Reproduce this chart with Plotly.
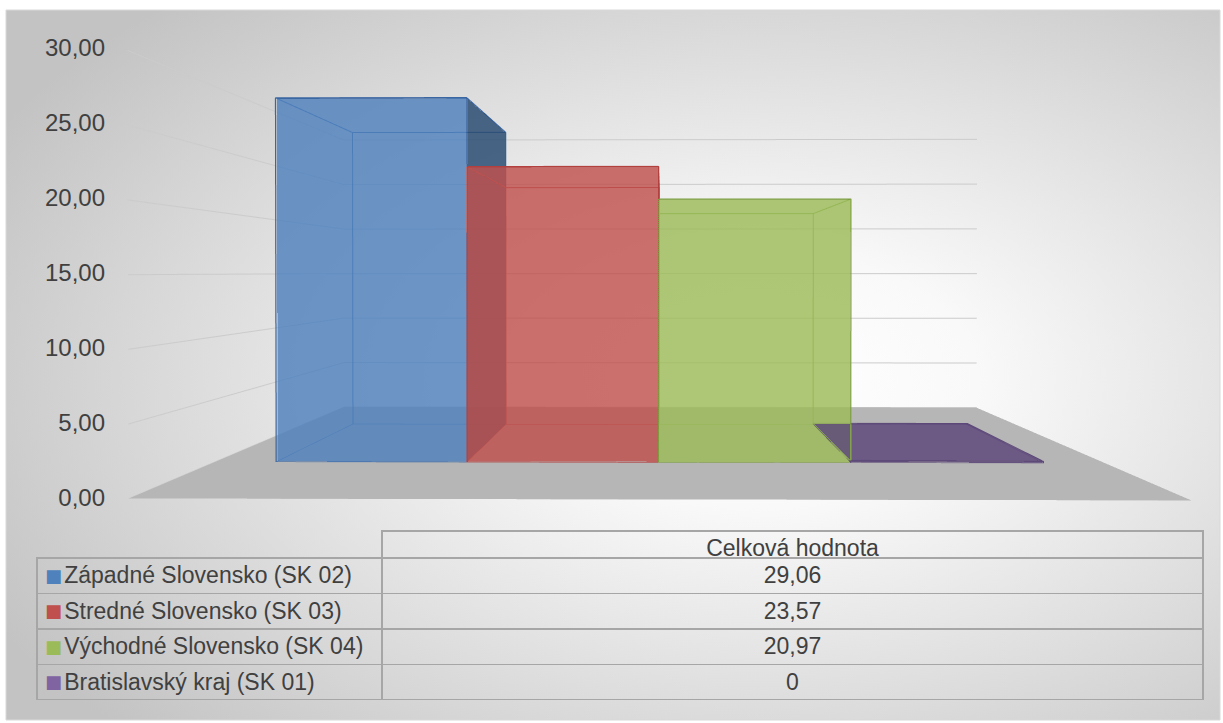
import base64
import plotly.graph_objects as go

# ---------------- data ----------------
categories = [
    "Západné Slovensko (SK 02)",
    "Stredné Slovensko (SK 03)",
    "Východné Slovensko (SK 04)",
    "Bratislavský kraj (SK 01)",
]
values = [29.06, 23.57, 20.97, 0]
value_labels = ["29,06", "23,57", "20,97", "0"]
column_header = "Celková hodnota"
y_tick_values = [0, 5, 10, 15, 20, 25, 30]
y_tick_labels = ["0,00", "5,00", "10,00", "15,00", "20,00", "25,00", "30,00"]

# ---------------- styles ----------------
base_colors = ["#4f81bd", "#c0504d", "#9bbb59", "#5c467a"]
side_colors = ["#25476f", "#7a2e2c", "#5d7a2e", "#4a3866"]
edge_colors = ["#3a66a2", "#b2403e", "#7d9e3e", "#5e4a78"]
legend_colors = ["#4f81bd", "#c0504d", "#9bbb59", "#8064a2"]
FONT = "Liberation Sans, Arial, sans-serif"
TEXT = "#404040"
BAR_W = 1.0           # bar width in category units (no gap)
DEPTH = (0.29, 0.72)  # bar depth band inside the floor
MIN_H = 0.15          # visual thickness for zero-valued bar
ALPHA = 0.82
X_RANGE = [-0.322, 4.322]
Y_RANGE = [0, 1]
Z_RANGE = [0, 30]
VIEW_X = sum(X_RANGE) / 2
VIEW_Z = sum(Z_RANGE) / 2
EPS = 0.006
INDENT = "\u00a0\u00a0\u00a0"

fig = go.Figure()

# floor
fig.add_trace(go.Mesh3d(
    x=[X_RANGE[0], X_RANGE[1], X_RANGE[1], X_RANGE[0]],
    y=[Y_RANGE[0], Y_RANGE[0], Y_RANGE[1], Y_RANGE[1]],
    z=[Z_RANGE[0]] * 4,
    i=[0, 0], j=[1, 2], k=[2, 3],
    color="#b6b6b6", flatshading=True, opacity=1,
    lighting=dict(ambient=1, diffuse=0, specular=0, roughness=1, fresnel=0),
    hoverinfo="skip", showscale=False,
))

# bars as 3D boxes (only faces turned towards the viewer are filled)
for i, (name, v) in enumerate(zip(categories, values)):
    x0, x1 = i, i + BAR_W
    y0, y1 = DEPTH
    z0, z1 = 0.0, max(v, MIN_H)
    xs = [x0, x1, x1, x0, x0, x1, x1, x0]
    ys = [y0, y0, y1, y1, y0, y0, y1, y1]
    zs = [z0, z0, z0, z0, z1, z1, z1, z1]
    tri, fc = [], []
    if x1 < VIEW_X:      # right side visible
        tri += [(1, 2, 6), (1, 6, 5)]; fc += [side_colors[i]] * 2
    if x0 > VIEW_X:      # left side visible
        tri += [(0, 3, 7), (0, 7, 4)]; fc += [side_colors[i]] * 2
    if z1 < VIEW_Z:      # top visible from above
        tri += [(4, 5, 6), (4, 6, 7)]; fc += [base_colors[i]] * 2
    tri += [(0, 1, 5), (0, 5, 4)]; fc += [base_colors[i]] * 2   # front
    fig.add_trace(go.Mesh3d(
        x=xs, y=ys, z=zs,
        i=[t[0] for t in tri], j=[t[1] for t in tri], k=[t[2] for t in tri],
        facecolor=fc, flatshading=True, opacity=ALPHA,
        lighting=dict(ambient=1, diffuse=0, specular=0, roughness=1, fresnel=0),
        hoverinfo="skip", showscale=False, name=name,
    ))
    # inner / back edges
    ex, ey, ez = [], [], []
    loops = [[4, 5, 6, 7, 4], [3, 2], [0, 3], [1, 2], [2, 6], [3, 7], [5, 6]]
    for lp in loops:
        for p in lp:
            ex.append(xs[p]); ey.append(ys[p]); ez.append(zs[p])
        ex.append(None); ey.append(None); ez.append(None)
    fig.add_trace(go.Scatter3d(
        x=ex, y=ey, z=ez, mode="lines",
        line=dict(color=edge_colors[i], width=2),
        hoverinfo="skip", showlegend=False,
    ))
    # front outline, just in front of the front face
    fx = [x0, x1, x1, x0, x0]
    fz = [z0, z0, z1, z1, z0]
    fig.add_trace(go.Scatter3d(
        x=fx, y=[y0 - EPS] * 5, z=fz, mode="lines",
        line=dict(color=edge_colors[i], width=2.5),
        hoverinfo="skip", showlegend=False,
    ))

# value axis labels on the front edge (2D axis overlay)
fig.add_trace(go.Scatter(
    x=[0] * len(y_tick_values), y=y_tick_values, mode="markers",
    marker=dict(opacity=0), hoverinfo="skip", showlegend=False,
))

# data table
TABLE_X = [37 / 1223, 1203 / 1223]
TABLE_Y = [23 / 723, 192 / 723]
fig.add_trace(go.Table(
    domain=dict(x=TABLE_X, y=TABLE_Y),
    columnwidth=[345, 821],
    header=dict(
        values=["", column_header],
        align=["left", "center"],
        height=27,
        fill=dict(color="rgba(0,0,0,0)"),
        line=dict(color=["rgba(0,0,0,0)", "#a6a6a6"], width=1.5),
        font=dict(family=FONT, size=23, color=TEXT),
    ),
    cells=dict(
        values=[[INDENT + n for n in categories], value_labels],
        align=["left", "center"],
        height=35.5,
        fill=dict(color="rgba(0,0,0,0)"),
        line=dict(color="#a6a6a6", width=1.5),
        font=dict(family=FONT, size=23, color=TEXT),
    ),
))
# legend keys overlaid on the first table column
fig.add_trace(go.Table(
    domain=dict(x=[TABLE_X[0], TABLE_X[0] + 40 / 1223],
                y=[TABLE_Y[0] - 2 / 723, TABLE_Y[1] - 2 / 723]),
    header=dict(
        values=[""], height=27,
        fill=dict(color="rgba(0,0,0,0)"), line=dict(color="rgba(0,0,0,0)", width=0),
        font=dict(size=22),
    ),
    cells=dict(
        values=[["■"] * len(categories)],
        align=["left"], height=35.5,
        fill=dict(color="rgba(0,0,0,0)"), line=dict(color="rgba(0,0,0,0)", width=0),
        font=dict(family="DejaVu Sans", size=18, color=[legend_colors]),
    ),
))

# gradient background image (SVG)
svg = (
    '<svg xmlns="http://www.w3.org/2000/svg" width="1214" height="710" preserveAspectRatio="none">'
    '<defs><radialGradient id="g" cx="0.62" cy="0.52" r="0.72">'
    '<stop offset="0" stop-color="#ffffff"/>'
    '<stop offset="0.25" stop-color="#f9f9f9"/>'
    '<stop offset="1" stop-color="#c3c3c3"/>'
    '</radialGradient></defs>'
    '<rect x="0" y="0" width="1214" height="710" fill="url(#g)"/></svg>'
)
src = "data:image/svg+xml;base64," + base64.b64encode(svg.encode()).decode()

axis_off = dict(
    showgrid=False, zeroline=False, showline=False, showticklabels=False,
    showbackground=False, showspikes=False, ticks="", title=dict(text=""),
)

fig.update_layout(
    width=1223, height=723,
    margin=dict(l=0, r=0, t=0, b=0, autoexpand=False),
    paper_bgcolor="white",
    plot_bgcolor="rgba(0,0,0,0)",
    separators=", ",
    showlegend=False,
    images=[dict(
        source=src, xref="paper", yref="paper",
        x=6 / 1223, y=1 - 10 / 723, sizex=1214 / 1223, sizey=710 / 723,
        xanchor="left", yanchor="top", sizing="stretch", layer="below",
    )],
    shapes=[dict(
        type="rect", xref="paper", yref="paper",
        x0=6 / 1223, x1=1220 / 1223, y0=3 / 723, y1=1 - 10 / 723,
        line=dict(color="#d9d9d9", width=1), layer="below",
    )],
    xaxis=dict(domain=[106 / 1223, 116 / 1223], visible=False, range=[-1, 1],
               automargin=False, fixedrange=True),
    yaxis=dict(
        domain=[(723 - 498) / 723, (723 - 48) / 723], range=Z_RANGE,
        tickvals=y_tick_values, ticktext=y_tick_labels,
        showgrid=False, zeroline=False, showline=False, ticks="",
        tickfont=dict(family=FONT, size=24, color=TEXT),
        fixedrange=True, automargin=False,
    ),
    scene=dict(
        domain=dict(x=[95 / 1223, 1.0], y=[183 / 723, 715 / 723]),
        bgcolor="rgba(0,0,0,0)",
        aspectmode="manual",
        aspectratio=dict(x=2.364, y=0.973, z=1.0),
        xaxis=dict(range=X_RANGE, **axis_off),
        yaxis=dict(range=Y_RANGE, **axis_off),
        zaxis=dict(
            range=Z_RANGE, tickvals=y_tick_values,
            showgrid=True, gridcolor="#cbcbcb", gridwidth=2,
            zeroline=False, showline=False, showspikes=False, ticks="",
            showticklabels=False, showbackground=False,
            title=dict(text=""),
        ),
        camera=dict(
            eye=dict(x=0.01, y=-1.913, z=0.006),
            center=dict(x=0, y=0, z=0),
            up=dict(x=0, y=0, z=1),
            projection=dict(type="perspective"),
        ),
        dragmode=False,
    ),
)

fig.write_html(
    "out.html",
    config={"displayModeBar": False},
    post_script="document.body.style.margin='0';document.body.style.overflow='hidden';",
)
